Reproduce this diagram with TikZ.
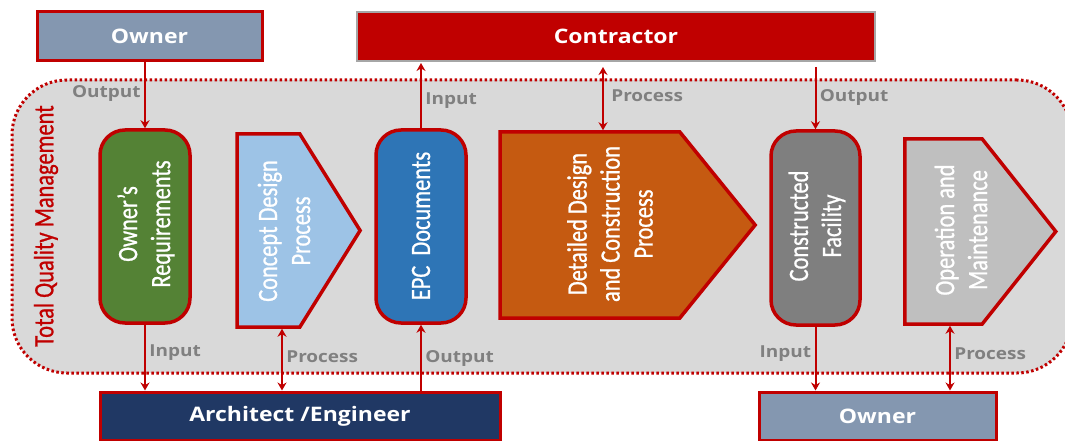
\documentclass[tikz,border=0pt]{standalone}
\usepackage{fontspec}
\setmainfont{Carlito}
\newfontfamily\headfont[FakeStretch=1.15]{Open Sans}
\newfontfamily\rotfont[FakeStretch=0.8, FakeBold=0.8]{Carlito}
\usetikzlibrary{shapes.symbols, arrows.meta}

\definecolor{tqmred}{HTML}{C00000}
\definecolor{tqmgray}{HTML}{D9D9D9}
\definecolor{taggray}{HTML}{808080}
\definecolor{ownblue}{HTML}{8497B0}
\definecolor{reqgreen}{HTML}{548235}
\definecolor{cdpblue}{HTML}{9DC3E6}
\definecolor{epcblue}{HTML}{2E75B6}
\definecolor{detorange}{HTML}{C55A11}
\definecolor{cfgray}{HTML}{7F7F7F}
\definecolor{omgray}{HTML}{BFBFBF}
\definecolor{aenavy}{HTML}{203864}
\definecolor{contrborder}{HTML}{A6A6A6}

\begin{document}
\begin{tikzpicture}[x = 1pt, y = -1pt, line width = 2pt,
    party/.style = {draw = tqmred, line width = 3pt, minimum height = 49pt, text = white,
                    font = \headfont\bfseries\fontsize{20}{22}\selectfont},
    docbox/.style = {draw = tqmred, line width = 3.5pt, rounded corners = 25pt,
                     minimum width = 90pt, minimum height = 193pt},
    procbox/.style = {signal, signal to = east, draw = tqmred, line width = 3.5pt},
    txt/.style = {rotate = 90, text = white, align = center,
                  font = \rotfont\fontsize{28}{33}\selectfont},
    link/.style = {draw = tqmred, line width = 2pt, -{Stealth[length = 8pt, width = 9pt]}},
    both/.style = {link, {Stealth[length = 8pt, width = 9pt]}-{Stealth[length = 8pt, width = 9pt]}},
    tag/.style = {text = taggray, font = \headfont\bfseries\fontsize{16.5}{18}\selectfont}]

  \useasboundingbox (0, 0) rectangle (1065, 441);

  % quality frame
  \node [draw = tqmred, fill = tqmgray, line width = 3pt, dash pattern = on 2.5pt off 2.5pt,
         rounded corners = 55pt, minimum width = 1060pt, minimum height = 293pt]
        (tqm) at (542, 226.5){};
  \node [rotate = 90, text = tqmred, font = \rotfont\fontsize{28}{33}\selectfont]
        (tqmlbl) at (46, 226){Total Quality Management};

  % parties
  \node [party, fill = ownblue, minimum width = 225pt] (own1) at (149.5, 36.5){Owner};
  \node [party, fill = tqmred, draw = contrborder, line width = 2pt, minimum width = 518pt]
        (contr) at (616, 36.5){Contractor};
  \node [party, fill = aenavy, minimum width = 400pt, minimum height = 48pt] (ae) at (300, 416){Architect /Engineer};
  \node [party, fill = ownblue, minimum width = 237pt, minimum height = 48pt] (own2) at (877.5, 416){Owner};

  % stages (signal centre = centre of its body)
  \node [docbox, fill = reqgreen] (req) at (145, 226.5){};
  \node [procbox, fill = cdpblue, minimum width = 123pt, minimum height = 193pt,
         signal pointer angle = 116] (cdp) at (268.5, 230.5){};
  \node [docbox, fill = epcblue] (epc) at (421, 226.5){};
  \node [procbox, fill = detorange, minimum width = 255pt, minimum height = 186pt,
         signal pointer angle = 102] (det) at (590, 225){};
  \node [docbox, fill = cfgray, minimum width = 89pt, minimum height = 194pt] (cf) at (815.5, 228){};
  \node [procbox, fill = omgray, minimum width = 151pt, minimum height = 185pt,
         signal pointer angle = 103] (om) at (943.5, 231.5){};

  \node [txt] (reqtxt) at (146, 224){Owner’s\\Requirements};
  \node [txt] (cdptxt) at (284, 231){Concept Design\\Process};
  \node [txt] (epctxt) at (421, 226){EPC~ Documents};
  \node [txt] (dettxt) at (610, 224){Detailed Design\\and Construction\\Process};
  \node [txt] (cftxt) at (817, 226){Constructed\\Facility};
  \node [txt] (omtxt) at (961, 230){Operation and\\Maintenance};

  % links
  \draw [link] (own1.south -| req.north) -- (req.north) node [tag, left, pos = 0.47]{Output};
  \draw [link, shorten > = 1pt] (epc.north) -- (epc.north |- contr.south) node [tag, right, pos = 0.41]{Input};
  \draw [both, shorten > = 5pt] ([xshift = 13pt]det.north) -- ([xshift = 13pt]det.north |- contr.south)
        node [tag, right, pos = 0.5, xshift = 4pt]{Process};
  \draw [link, shorten < = 5pt] (cf.north |- contr.south) -- (cf.north) node [tag, right, pos = 0.53]{Output};

  \draw [link] (req.south) -- (req.south |- ae.north) node [tag, right, pos = 0.43]{Input};
  \draw [both] ([xshift = 13.5pt]cdp.south) -- ([xshift = 13.5pt]cdp.south |- ae.north)
        node [tag, right, pos = 0.46]{Process};
  \draw [link] (epc.south |- ae.north) -- (epc.south) node [tag, right, pos = 0.49]{Output};
  \draw [link] (cf.south) -- (cf.south |- own2.north) node [tag, left, pos = 0.42]{Input};
  \draw [both] ([xshift = 6.5pt]om.south) -- ([xshift = 6.5pt]om.south |- own2.north)
        node [tag, right, pos = 0.43]{Process};

\end{tikzpicture}
\end{document}
